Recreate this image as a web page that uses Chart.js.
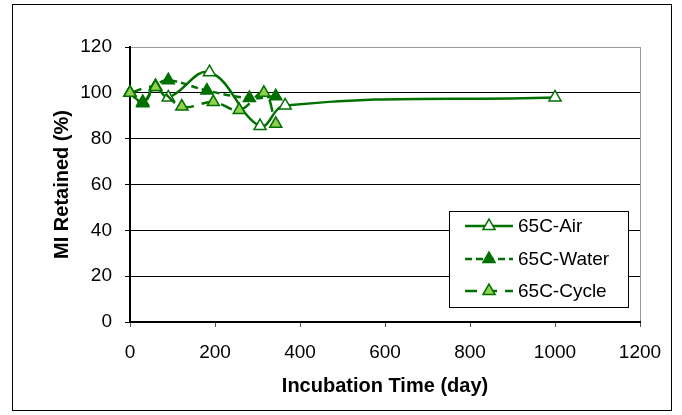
<!DOCTYPE html>
<html>
<head>
<meta charset="utf-8">
<title>MI Retained</title>
<script src="https://cdn.jsdelivr.net/npm/chart.js@4.4.1/dist/chart.umd.min.js"></script>
<style>
  html, body { margin: 0; padding: 0; background: #fff; }
  canvas { display: block; }
</style>
</head>
<body>
<canvas id="miChart" width="682" height="415"></canvas>
<script>
// incubation time in days and MI retained in %, one pair of arrays per condition
const airDays = [0, 30, 60, 90, 187, 306, 365, 1000];
const airRetained = [100, 96, 102.5, 98, 109, 85.5, 94.5, 98];
const waterDays = [0, 30, 60, 90, 181, 281, 343];
const waterRetained = [100, 95.5, 103, 105.5, 101, 97.7, 98.5];
const cycleDays = [0, 60, 122, 196, 257, 315, 343];
const cycleRetained = [100, 102.5, 94, 96, 92.5, 100, 86.5];

const seriesNames = ['65C-Air', '65C-Water', '65C-Cycle'];
const xTicks = [0, 200, 400, 600, 800, 1000, 1200];
const yTicks = [0, 20, 40, 60, 80, 100, 120];

const darkGreen = '#007000';
const lightGreen = '#92d050';
const fontFamily = "'Liberation Sans', Arial, sans-serif";

Chart.defaults.font.family = fontFamily;
Chart.defaults.color = '#000';

function toPoints(xs, ys) {
    return xs.map((x, i) => ({x: x, y: ys[i]}));
}

// outer frame, grey right edge of the plot area, and the boxed legend
const framePlugin = {
    id: 'frame',
    beforeDraw(chart) {
        const ctx = chart.ctx;
        ctx.save();
        ctx.fillStyle = '#fff';
        ctx.fillRect(0, 0, chart.width, chart.height);
        ctx.strokeStyle = '#000';
        ctx.lineWidth = 1;
        ctx.strokeRect(12.5, 4.5, 659, 406);
        const a = chart.chartArea;
        ctx.strokeStyle = '#999';
        ctx.beginPath();
        ctx.moveTo(a.right + 0.5, a.top);
        ctx.lineTo(a.right + 0.5, a.bottom);
        ctx.stroke();
        ctx.restore();
    },
    afterDraw(chart) {
        const ctx = chart.ctx;
        ctx.save();
        ctx.fillStyle = '#fff';
        ctx.fillRect(449, 211, 179, 96);
        ctx.strokeStyle = '#000';
        ctx.lineWidth = 1;
        ctx.strokeRect(449.5, 211.5, 179, 96);
        const rows = [226, 259, 291];
        chart.data.datasets.forEach((ds, i) => {
            const y = rows[i];
            ctx.strokeStyle = ds.borderColor;
            ctx.lineWidth = ds.borderWidth;
            ctx.setLineDash(ds.borderDash || []);
            ctx.beginPath();
            ctx.moveTo(465, y);
            ctx.lineTo(513, y);
            ctx.stroke();
            ctx.setLineDash([]);
            ctx.fillStyle = ds.pointBackgroundColor;
            ctx.strokeStyle = ds.pointBorderColor;
            ctx.lineWidth = ds.pointBorderWidth;
            Chart.helpers.drawPoint(ctx, {
                pointStyle: 'triangle',
                radius: 7,
                borderWidth: ds.pointBorderWidth,
                rotation: 0
            }, 489, y);
            ctx.fillStyle = '#000';
            ctx.font = '19px ' + fontFamily;
            ctx.textBaseline = 'middle';
            ctx.textAlign = 'left';
            ctx.fillText(ds.label, 518, y + 1);
        });
        ctx.restore();
    }
};

const datasets = [
    {
        label: seriesNames[0],
        data: toPoints(airDays, airRetained),
        borderColor: darkGreen,
        borderWidth: 2.5,
        pointBackgroundColor: '#fff',
        pointBorderColor: darkGreen,
        pointBorderWidth: 1.5,
        order: 2
    },
    {
        label: seriesNames[1],
        data: toPoints(waterDays, waterRetained),
        borderColor: darkGreen,
        borderWidth: 2.5,
        borderDash: [7, 4],
        pointBackgroundColor: darkGreen,
        pointBorderColor: darkGreen,
        pointBorderWidth: 1.5,
        order: 1
    },
    {
        label: seriesNames[2],
        data: toPoints(cycleDays, cycleRetained),
        borderColor: darkGreen,
        borderWidth: 2.5,
        borderDash: [12, 8],
        pointBackgroundColor: lightGreen,
        pointBorderColor: darkGreen,
        pointBorderWidth: 1.5,
        order: 0
    }
];

new Chart(document.getElementById('miChart'), {
    type: 'line',
    data: {datasets: datasets},
    plugins: [framePlugin],
    options: {
        responsive: false,
        animation: false,
        layout: {padding: {left: 12, right: 42, top: 47, bottom: 13}},
        elements: {
            line: {tension: 0.4, fill: false},
            point: {pointStyle: 'triangle', radius: 7, hoverRadius: 7}
        },
        datasets: {line: {clip: false}},
        plugins: {
            legend: {display: false},
            tooltip: {enabled: false}
        },
        scales: {
            x: {
                type: 'linear',
                min: xTicks[0],
                max: xTicks[xTicks.length - 1],
                afterBuildTicks: scale => { scale.ticks = xTicks.map(v => ({value: v})); },
                afterFit: scale => { scale.height = 80; },
                grid: {drawOnChartArea: false, drawTicks: true, tickLength: 5, tickColor: '#555'},
                border: {display: true, color: '#000', width: 2},
                ticks: {font: {size: 19}, padding: 14, maxRotation: 0, callback: v => String(v)},
                title: {
                    display: true,
                    text: 'Incubation Time (day)',
                    font: {size: 20, weight: 'bold'},
                    padding: {top: 0, bottom: 4}
                }
            },
            y: {
                min: yTicks[0],
                max: yTicks[yTicks.length - 1],
                afterBuildTicks: scale => { scale.ticks = yTicks.map(v => ({value: v})); },
                afterFit: scale => { scale.width = 118; },
                grid: {
                    color: c => (c.tick && c.tick.value === 120) ? '#999' : '#000',
                    lineWidth: 1,
                    tickLength: 5,
                    tickColor: '#000'
                },
                border: {display: true, color: '#000', width: 2},
                ticks: {font: {size: 19}, padding: 13, callback: v => String(v)},
                title: {
                    display: true,
                    text: 'MI Retained (%)',
                    font: {size: 20, weight: 'bold'},
                    padding: {top: 38, bottom: 0}
                }
            }
        }
    }
});
</script>
</body>
</html>
